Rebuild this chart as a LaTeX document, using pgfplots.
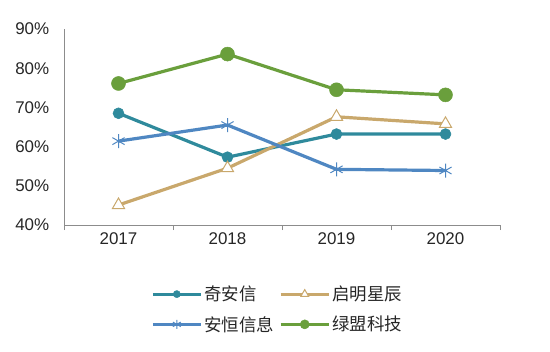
\documentclass[border=0pt]{standalone}
\usepackage{fontspec}
\setmainfont{Liberation Sans}
\newfontfamily\cjk{Noto Sans CJK SC}
\usepackage{pgfplots}
\pgfplotsset{compat=1.18}
\definecolor{cteal}{HTML}{2F8A9C}
\definecolor{ctan}{HTML}{C9A86C}
\definecolor{cblue}{HTML}{4F87C2}
\definecolor{cgreen}{HTML}{6A9F3C}
\definecolor{cgrid}{HTML}{8C8C8C}
\begin{document}
\begin{tikzpicture}
\useasboundingbox (-64bp,-127bp) rectangle (486bp,225bp);
\begin{axis}[
  at={(0,0)}, anchor=south west,
  scale only axis, width=436bp, height=196bp,
  xmin=-0.5, xmax=3.5, ymin=40, ymax=90,
  axis x line*=bottom, axis y line*=left,
  axis line style={cgrid, line width=0.8bp, -},
  xtick={0,1,2,3}, xticklabels={2017,2018,2019,2020},
  minor xtick={-0.5,0.5,1.5,2.5,3.5},
  major x tick style={draw=none},
  minor tick length=5bp, tick align=outside,
  minor x tick style={cgrid, line width=0.8bp},
  ytick={40,50,60,70,80,90},
  major y tick style={draw=none},
  yticklabel={\pgfmathprintnumber{\tick}\%},
  yticklabel style={xshift=-7bp},
  /pgf/number format/assume math mode=true,
  tick label style={font=\fontsize{17}{20}\selectfont, text=black!85},
  clip=false,
  legend columns=2,
  legend style={at={(0.49,-0.43)}, anchor=center, draw=none, fill=none,
    font=\fontsize{17.5}{20}\selectfont\cjk, row sep=10bp, text=black!85,
    /tikz/every even column/.append style={column sep=3bp}},
  legend cell align=left,
  legend image code/.code={\draw[mark repeat=2,mark phase=2,#1,every mark/.append style={scale=0.65}] plot coordinates {(0bp,0bp) (24bp,0bp) (48bp,0bp)};},
]
\addplot[cteal, line width=3.2bp, mark=*, mark size=5.5bp, mark options={fill=cteal, draw=cteal, line width=0.5bp}]
  coordinates {(0,68.5) (1,57.3) (2,63.2) (3,63.2)};
\addlegendentry{奇安信}
\addplot[ctan, line width=3.2bp, mark=triangle*, mark size=7bp, mark options={fill=white, draw=ctan, line width=1bp}]
  coordinates {(0,45.1) (1,54.5) (2,67.6) (3,65.8)};
\addlegendentry{启明星辰}
\addplot[cblue, line width=3.2bp, mark=asterisk, mark size=7bp, mark options={draw=cblue, line width=1bp}]
  coordinates {(0,61.4) (1,65.5) (2,54.2) (3,53.9)};
\addlegendentry{安恒信息}
\addplot[cgreen, line width=3.2bp, mark=*, mark size=7bp, mark options={fill=cgreen, draw=cgreen, line width=0.5bp}]
  coordinates {(0,76.1) (1,83.6) (2,74.5) (3,73.2)};
\addlegendentry{绿盟科技}
\end{axis}
\end{tikzpicture}
\end{document}
